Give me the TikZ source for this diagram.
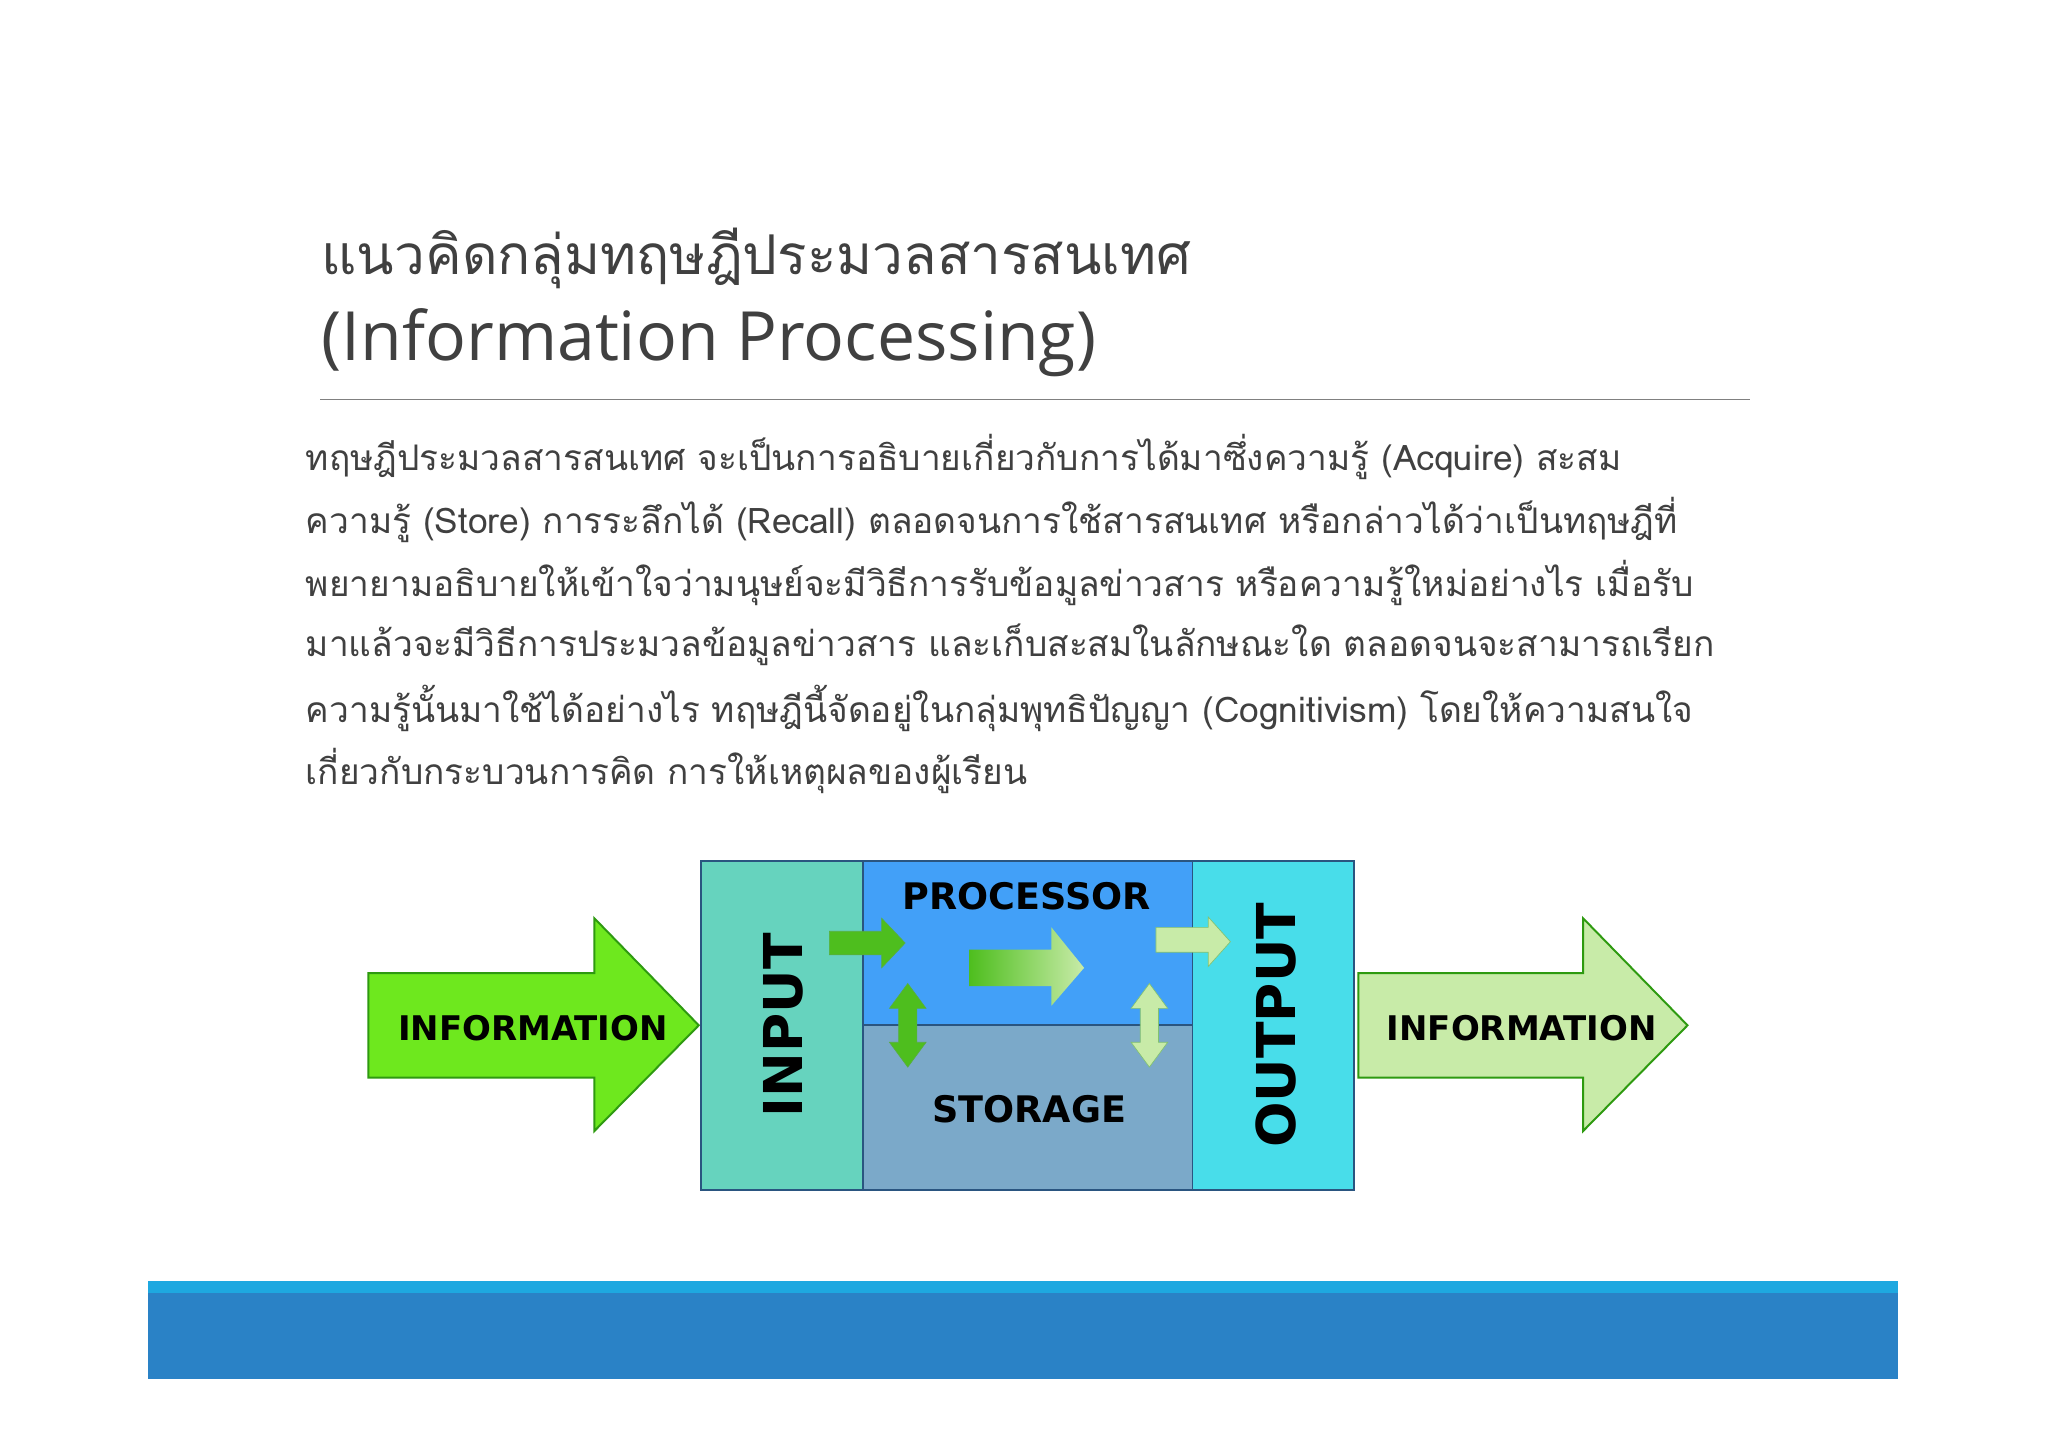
\documentclass[tikz,border=0pt]{standalone}
\usepackage{fontspec}
\newfontfamily\thaifont[Script=Thai]{Loma}
\newfontfamily\latfont{Open Sans}
\newfontfamily\boldsans{DejaVu Sans}
\definecolor{txt}{HTML}{404040}
\definecolor{gA}{HTML}{6EE81E}
\definecolor{gB}{HTML}{C8EBA8}
\definecolor{gD}{HTML}{2E9A10}
\definecolor{gM}{HTML}{4EBE1E}
\definecolor{inC}{HTML}{66D3BE}
\definecolor{prC}{HTML}{42A0F8}
\definecolor{stC}{HTML}{7BA9C9}
\definecolor{ouC}{HTML}{48DDEA}
\definecolor{bx}{HTML}{2A5580}
\definecolor{barL}{HTML}{1EA8E0}
\definecolor{barD}{HTML}{2A82C6}
\begin{document}
\begin{tikzpicture}[x=1pt,y=-1pt,
  body/.style={anchor=west,inner sep=0,text=txt,font=\thaifont\fontsize{27}{27}\selectfont},
  lab/.style={font=\boldsans\bfseries\fontsize{26}{26}\selectfont,inner sep=0},
  box/.style={draw=bx,line width=1.5pt}]
\useasboundingbox (0,0) rectangle (1568,1108);
\fill[white] (0,0) rectangle (1568,1108);
\node[anchor=west,inner sep=0,text=txt,font=\thaifont\fontsize{42}{42}\selectfont] (t1) at (246,198) {แนวคิดกลุ่มทฤษฎีประมวลสารสนเทศ};
\node[anchor=west,inner sep=0,text=txt,font=\latfont\fontsize{52}{52}\selectfont] (t2) at (246,262) {(Information Processing)};
\draw[gray,line width=1.2pt] (245,306) -- (1340,306);
\node[body] (l1) at (234,350) {ทฤษฎีประมวลสารสนเทศ จะเป็นการอธิบายเกี่ยวกับการได้มาซึ่งความรู้ (Acquire) สะสม};
\node[body] (l2) at (234,398) {ความรู้ (Store) การระลึกได้ (Recall) ตลอดจนการใช้สารสนเทศ หรือกล่าวได้ว่าเป็นทฤษฎีที่};
\node[body] (l3) at (234,446) {พยายามอธิบายให้เข้าใจว่ามนุษย์จะมีวิธีการรับข้อมูลข่าวสาร หรือความรู้ใหม่อย่างไร เมื่อรับ};
\node[body] (l4) at (234,494) {มาแล้วจะมีวิธีการประมวลข้อมูลข่าวสาร และเก็บสะสมในลักษณะใด ตลอดจนจะสามารถเรียก};
\node[body] (l5) at (234,542) {ความรู้นั้นมาใช้ได้อย่างไร ทฤษฎีนี้จัดอยู่ในกลุ่มพุทธิปัญญา (Cognitivism) โดยให้ความสนใจ};
\node[body] (l6) at (234,590) {เกี่ยวกับกระบวนการคิด การให้เหตุผลของผู้เรียน};
% big arrows
\draw[fill=gA,draw=gD,line width=1.5pt] (282,745) -- (455,745) -- (455,703) -- (535,785) -- (455,866) -- (455,825) -- (282,825) -- cycle;
\node[lab] (iL) at (408,787) {INFORMATION};
\draw[fill=gB,draw=gD,line width=1.5pt] (1040,745) -- (1212,745) -- (1212,703) -- (1292,785) -- (1212,866) -- (1212,825) -- (1040,825) -- cycle;
\node[lab] (iR) at (1165,787) {INFORMATION};
% boxes
\draw[box,fill=inC] (537,659) rectangle (661,911);
\draw[box,fill=prC] (661,659) rectangle (913,785);
\draw[box,fill=stC] (661,785) rectangle (913,911);
\draw[box,fill=ouC] (913,659) rectangle (1037,911);
\node[lab,font=\boldsans\bfseries\fontsize{41}{41}\selectfont,rotate=90] (inp) at (600,785) {INPUT};
\node[lab,font=\boldsans\bfseries\fontsize{41}{41}\selectfont,rotate=90] (out) at (977,785) {OUTPUT};
\node[lab,font=\boldsans\bfseries\fontsize{28}{28}\selectfont] (pr) at (786,686) {PROCESSOR};
\node[lab,font=\boldsans\bfseries\fontsize{28}{28}\selectfont] (st) at (788,849) {STORAGE};
% small arrows
\draw[fill=gM,draw=gD!80,line width=0.5pt] (635,713) -- (675,713) -- (675,703) -- (693,722) -- (675,741) -- (675,731) -- (635,731) -- cycle;
\shade[left color=gM,right color=gB] (742,727) -- (805,727) -- (805,710) -- (830,741) -- (805,770) -- (805,755) -- (742,755) -- cycle;
\draw[fill=gB,draw=gD!60,line width=0.5pt] (885,710) -- (925,710) -- (925,702) -- (942,721) -- (925,740) -- (925,729) -- (885,729) -- cycle;
\draw[fill=gM,draw=gD!80,line width=0.5pt] (695,753) -- (709,772) -- (702,772) -- (702,798) -- (709,798) -- (695,817) -- (681,798) -- (688,798) -- (688,772) -- (681,772) -- cycle;
\draw[fill=gB,draw=gD!60,line width=0.5pt] (880,753) -- (894,772) -- (887,772) -- (887,798) -- (894,798) -- (880,817) -- (866,798) -- (873,798) -- (873,772) -- (866,772) -- cycle;
% footer
\fill[barL] (113,981) rectangle (1453,990);
\fill[barD] (113,990) rectangle (1453,1056);
\end{tikzpicture}
\end{document}
